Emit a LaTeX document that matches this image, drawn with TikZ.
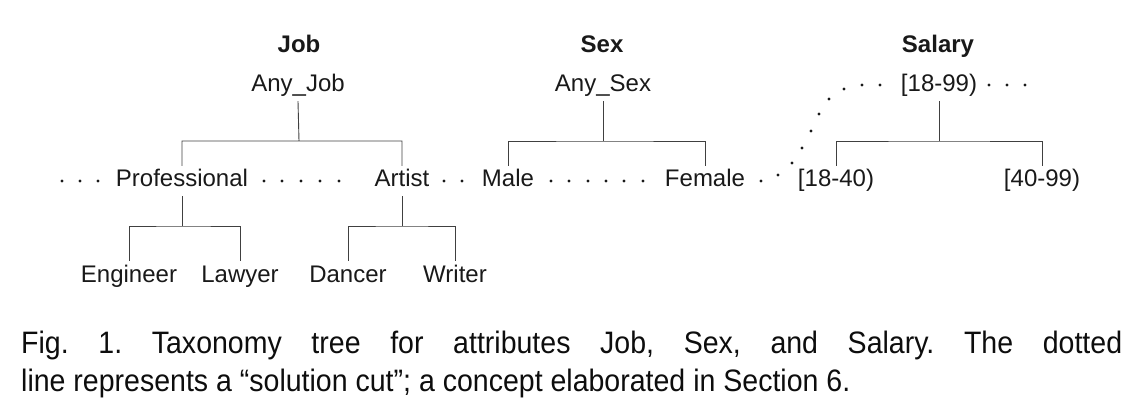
\documentclass[tikz,border=0pt]{standalone}
\usepackage{fontspec}
\setmainfont{Liberation Sans}
\newfontfamily\capfont[FakeStretch=0.92]{Liberation Sans}
\frenchspacing
\tikzset{
  lbl/.style={font=\fontsize{24}{28}\selectfont, text height=17pt, text depth=5pt,
    inner xsep=1pt, inner ysep=4pt, anchor=base, text=black!90},
  ttl/.style={lbl, font=\fontsize{24}{28}\selectfont\bfseries},
  edge/.style={line width=0.9pt, draw=black!75},
  capline/.style={anchor=base west, inner sep=0pt, font=\capfont\fontsize{31}{38}\selectfont, text=black!95}
}
\begin{document}
\begin{tikzpicture}[x=1pt,y=-1pt]
\useasboundingbox (0,0) rectangle (1140,406);
% attribute names
\node[ttl] (job) at (299,53) {Job};
\node[ttl] (sex) at (602,53) {Sex};
\node[ttl] (salary) at (938,53) {Salary};
% roots
\node[lbl] (anyjob) at (298,92) {Any\_Job};
\node[lbl] (anysex) at (603,92) {Any\_Sex};
\node[lbl] (range) at (939,92) {[18-99)};
% first level
\node[lbl] (prof) at (182,187) {Professional};
\node[lbl] (artist) at (402,187) {Artist};
\node[lbl] (male) at (508,187) {Male};
\node[lbl] (female) at (705,187) {Female};
\node[lbl] (low) at (836,187) {[18-40)};
\node[lbl] (high) at (1042,187) {[40-99)};
% leaves
\node[lbl] (eng) at (129,282) {Engineer};
\node[lbl] (lawyer) at (240,282) {Lawyer};
\node[lbl] (dancer) at (348,282) {Dancer};
\node[lbl] (writer) at (455,282) {Writer};
% branch points
\coordinate (jobbar) at (299,141);
\coordinate (sexbar) at (603,141);
\coordinate (salbar) at (939,141);
\coordinate (profbar) at (182,226);
\coordinate (artbar) at (402,226);
\draw[edge] (anyjob.south) -- (jobbar) (prof.north) |- (jobbar) -| (artist.north);
\draw[edge] (anysex.south) -- (sexbar) (male.north) |- (sexbar) -| (female.north);
\draw[edge] (range.south) -- (salbar) (low.north) |- (salbar) -| (high.north);
\draw[edge] (prof.south) -- (profbar) (eng.north) |- (profbar) -| (lawyer.north);
\draw[edge] (artist.south) -- (artbar) (dancer.north) |- (artbar) -| (writer.north);
% solution cut
\foreach \x in {62,80,98,264,282,301,320,339,444,462,551,569,588,606,624,643}
\fill[black!90] (\x,181) circle (1.6);
\foreach \x/\y in {761/181,778/175,792/163,802/148,811/131,819/114,829/99,844/89,862/85,880/85,989/85,1007/85,1025/85}
\fill[black!90] (\x,\y) circle (1.6);
% caption
\node[capline] (cap1) at (21,353) {\makebox[1101pt][s]{Fig. 1. Taxonomy tree for attributes Job, Sex, and Salary. The dotted}};
\node[capline] (cap2) at (21,391) {line represents a “solution cut”; a concept elaborated in Section 6.};
\end{tikzpicture}
\end{document}
